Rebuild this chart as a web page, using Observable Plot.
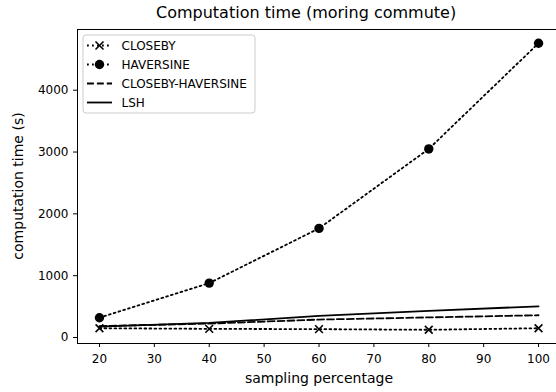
<!DOCTYPE html>
<html>
<head>
<meta charset="utf-8">
<script src="https://cdn.jsdelivr.net/npm/d3@7"></script>
<script src="https://cdn.jsdelivr.net/npm/@observablehq/plot@0.6"></script>
<style>
  html, body { margin: 0; padding: 0; background: #fff; overflow: hidden; width: 556px; height: 392px; }
  #title { position: relative; height: 26px; width: 556px; font-family: "DejaVu Sans", sans-serif; font-size: 16px; color: #000; }
  #title span { position: absolute; left: 156px; top: 3px; white-space: nowrap; }
  #chart { width: 560px; }
  #chart svg { display: block; max-width: none !important; }
</style>
</head>
<body>
<div id="title"><span>Computation time (moring commute)</span></div>
<div id="chart"></div>
<script>
const samplingPct = [20, 40, 60, 80, 100];
const closeby = [150, 140, 135, 125, 150];
const haversine = [320, 880, 1765, 3050, 4760];
const closebyHaversine = [185, 225, 290, 325, 360];
const lsh = [175, 235, 350, 430, 505];
const seriesNames = ["CLOSEBY", "HAVERSINE", "CLOSEBY-HAVERSINE", "LSH"];
const xTicks = [20, 30, 40, 50, 60, 70, 80, 90, 100];
const yTicks = [0, 1000, 2000, 3000, 4000];
const xLabel = "sampling percentage";
const yLabel = "computation time (s)";

const toRows = (vals, name) => samplingPct.map((x, i) => ({x, y: vals[i], name}));
const rowsC = toRows(closeby, seriesNames[0]);
const rowsH = toRows(haversine, seriesNames[1]);
const rowsCH = toRows(closebyHaversine, seriesNames[2]);
const rowsL = toRows(lsh, seriesNames[3]);

const LW = 1.8;
const dotted = "1.8,3.2";
const dashed = "6.9,3";

const plot = Plot.plot({
  width: 560,
  height: 366,
  marginLeft: 77,
  marginRight: 0,
  marginTop: 3,
  marginBottom: 49,
  style: {fontFamily: "DejaVu Sans, sans-serif", fontSize: "12px", color: "#000", background: "#fff", overflow: "visible", maxWidth: "none"},
  x: {domain: [16, 104], ticks: xTicks, tickSize: 4, tickPadding: 7, label: null},
  y: {domain: [-97, 4982], ticks: yTicks, tickSize: 4, tickPadding: 5, label: null, tickFormat: d3.format("d")},
  marks: [
    Plot.line(rowsCH, {x: "x", y: "y", stroke: "#000", strokeWidth: LW, strokeDasharray: dashed}),
    Plot.line(rowsL, {x: "x", y: "y", stroke: "#000", strokeWidth: LW}),
    Plot.line(rowsC, {x: "x", y: "y", stroke: "#000", strokeWidth: LW, strokeDasharray: dotted}),
    Plot.dot(rowsC, {x: "x", y: "y", symbol: "times", r: 3.6, stroke: "#000", strokeWidth: 1.6}),
    Plot.line(rowsH, {x: "x", y: "y", stroke: "#000", strokeWidth: LW, strokeDasharray: dotted}),
    Plot.dot(rowsH, {x: "x", y: "y", r: 4.7, fill: "#000", stroke: "none"}),
    Plot.text([xLabel], {frameAnchor: "bottom", dy: 39, text: d => d, fontSize: 14, fill: "#000"}),
    Plot.frame({stroke: "#000", strokeWidth: 1})
  ]
});
document.getElementById("chart").appendChild(plot);

const svg = d3.select(plot);
// y axis label, centred on the plot frame
svg.append("text")
  .attr("transform", "translate(18,160) rotate(-90)")
  .attr("text-anchor", "middle").attr("dy", "0.36em")
  .attr("font-family", "DejaVu Sans, sans-serif").attr("font-size", 14).attr("fill", "#000")
  .text(yLabel);

// legend
const lg = svg.append("g").attr("font-family", "DejaVu Sans, sans-serif").attr("font-size", 12).attr("text-anchor", "start");
lg.append("rect").attr("x", 83).attr("y", 9).attr("width", 172).attr("height", 78)
  .attr("rx", 3).attr("fill", "#fff").attr("fill-opacity", 0.85).attr("stroke", "#ccc").attr("stroke-width", 1);
const entries = [
  {name: seriesNames[0], dash: dotted, marker: "x"},
  {name: seriesNames[1], dash: dotted, marker: "o"},
  {name: seriesNames[2], dash: dashed, marker: null},
  {name: seriesNames[3], dash: null, marker: null}
];
entries.forEach((e, i) => {
  const cy = 19.5 + i * 19;
  const ln = lg.append("line").attr("x1", 87).attr("x2", 112).attr("y1", cy).attr("y2", cy)
    .attr("stroke", "#000").attr("stroke-width", LW);
  if (e.dash) ln.attr("stroke-dasharray", e.dash);
  if (e.marker === "o") lg.append("circle").attr("cx", 99.5).attr("cy", cy).attr("r", 4.7).attr("fill", "#000");
  if (e.marker === "x") lg.append("path").attr("d", `M${95.5},${cy-4}L${103.5},${cy+4}M${95.5},${cy+4}L${103.5},${cy-4}`)
    .attr("stroke", "#000").attr("stroke-width", 1.6);
  lg.append("text").attr("x", 121.5).attr("y", cy).attr("dy", "0.36em").attr("fill", "#000").text(e.name);
});
</script>
</body>
</html>
